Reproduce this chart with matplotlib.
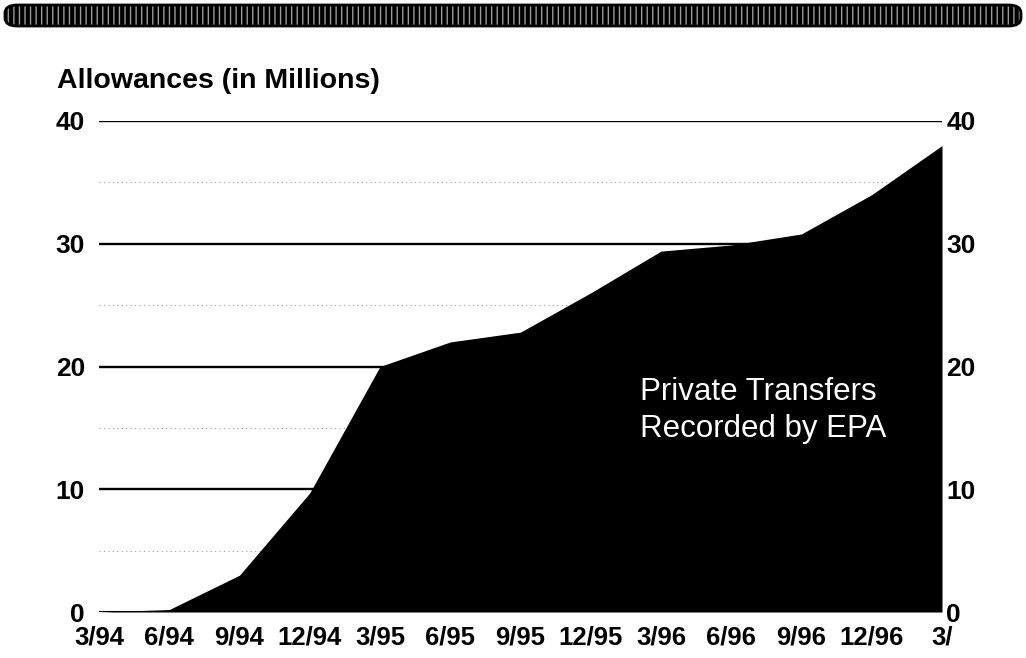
import matplotlib
matplotlib.use('Agg')
import matplotlib.pyplot as plt
from matplotlib.patches import FancyBboxPatch

plt.rcParams['font.family'] = ['Liberation Sans', 'DejaVu Sans']

# data (allowances in millions, cumulative)
quarters = ['3/94', '6/94', '9/94', '12/94', '3/95', '6/95', '9/95',
            '12/95', '3/96', '6/96', '9/96', '12/96', '3/']
allowances = [0, 0.2, 3.0, 9.7, 20.0, 22.0, 22.8, 26.0, 29.4, 29.9, 30.8, 34.0, 38.0]
y_ticks = [0, 10, 20, 30, 40]

fig = plt.figure(figsize=(10.26, 6.58), dpi=100)
ax = fig.add_axes([99 / 1026, 46 / 658, 843 / 1026, 491 / 658])

x = list(range(len(quarters)))

# faint scan lines between the grid lines
for v in [5, 15, 25, 35]:
    ax.axhline(v, color='#a0a0a0', lw=0.8, ls=(0, (1, 3)), zorder=1)
for v in y_ticks[1:]:
    ax.axhline(v, color='black', lw=1.7, zorder=2)

ax.fill_between(x, allowances, 0, color='black', lw=0, zorder=3)
ax.axhline(0, color='black', lw=1.5, zorder=3)

ax.set_xlim(0, len(quarters) - 1)
ax.set_ylim(0, 40)
for s in ax.spines.values():
    s.set_visible(False)

ax.set_xticks(x)
ax.set_xticklabels(quarters, fontweight='bold', fontsize=18.5)
ax.set_yticks(y_ticks)
ax.set_yticklabels([str(v) for v in y_ticks], fontweight='bold', fontsize=19)
ax.tick_params(axis='x', length=0, pad=10)
ax.tick_params(axis='y', length=0, pad=10)

# same labels repeated on the right side
ax2 = ax.twinx()
ax2.set_ylim(0, 40)
ax2.set_yticks(y_ticks)
ax2.set_yticklabels([str(v) for v in y_ticks], fontweight='bold', fontsize=19)
ax2.tick_params(axis='y', length=0, pad=3)
for s in ax2.spines.values():
    s.set_visible(False)

fig.text(57 / 1026, 1 - 88 / 658, 'Allowances (in Millions)',
         fontweight='bold', fontsize=20.5, va='baseline', ha='left')

ax.text(7.7, 16.4, 'Private Transfers\nRecorded by EPA', color='white',
        fontsize=22.5, ha='left', va='center', linespacing=1.3, zorder=4)

# decorative banner at the top of the page
band = FancyBboxPatch((5 / 1026, 632 / 658), 1016 / 1026, 21 / 658,
                      boxstyle='round,pad=0,rounding_size=0.012',
                      transform=fig.transFigure, facecolor='black',
                      edgecolor='#9a9a9a', lw=0, hatch='|||', zorder=5)
fig.patches.append(band)
rim = FancyBboxPatch((5 / 1026, 632 / 658), 1016 / 1026, 21 / 658,
                     boxstyle='round,pad=0,rounding_size=0.012',
                     transform=fig.transFigure, facecolor='none',
                     edgecolor='black', lw=2, zorder=6)
fig.patches.append(rim)

fig.savefig('out.png', dpi=100)
